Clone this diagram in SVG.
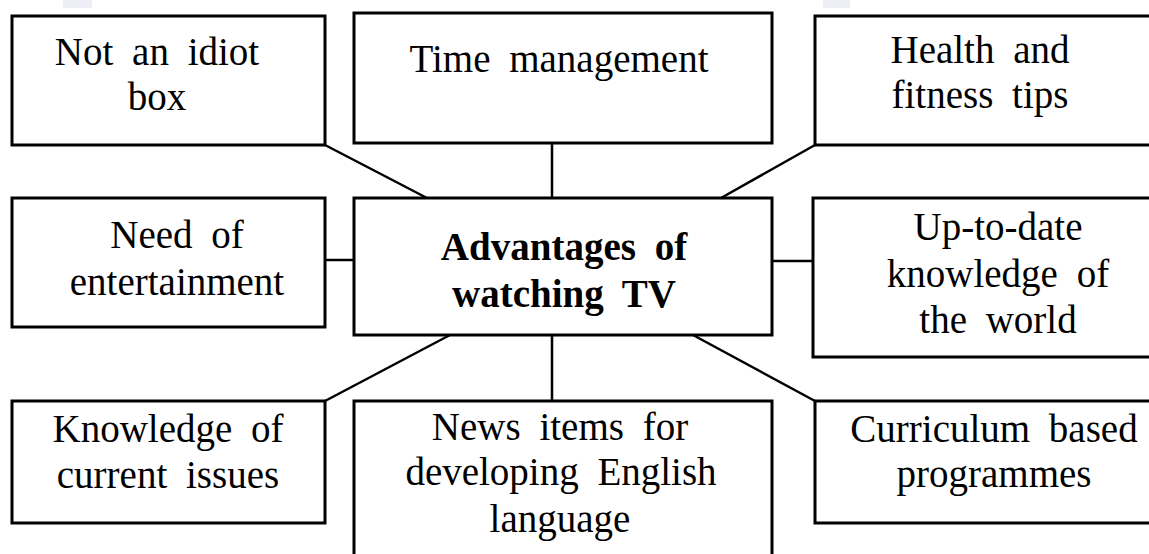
<svg xmlns="http://www.w3.org/2000/svg" width="1149" height="554" viewBox="0 0 1149 554">
  <style>
    .box { fill: #ffffff; stroke: #000000; stroke-width: 3; }
    .conn { stroke: #000000; stroke-width: 2.5; fill: none; }
    .t { font-size: 39px; fill: #000000; text-anchor: middle; word-spacing: 9px; }
    .tb { font-weight: bold; }
    .wm { fill: #eeeef7; }
  </style>
  <rect x="0" y="0" width="1149" height="554" fill="#ffffff"/>
  <rect class="wm" x="63" y="0" width="29" height="8"/>
  <rect class="wm" x="823" y="0" width="27" height="8"/>

  <g id="connectors">
    <line class="conn" x1="325" y1="145" x2="427" y2="198"/>
    <line class="conn" x1="552" y1="143" x2="552" y2="198"/>
    <line class="conn" x1="815" y1="145" x2="721" y2="198"/>
    <line class="conn" x1="325" y1="260" x2="354" y2="260"/>
    <line class="conn" x1="772" y1="261" x2="813" y2="261"/>
    <line class="conn" x1="450" y1="335" x2="325" y2="401"/>
    <line class="conn" x1="552" y1="335" x2="552" y2="401"/>
    <line class="conn" x1="693" y1="335" x2="815" y2="401"/>
  </g>

  <g font-family="Liberation Serif, Times New Roman, serif">
  <g id="node-idiot-box">
    <rect class="box" x="12" y="16" width="313" height="129"/>
    <text class="t" x="157" y="65">Not an idiot</text>
    <text class="t" x="157" y="110">box</text>
  </g>

  <g id="node-time">
    <rect class="box" x="354" y="13" width="418" height="130"/>
    <text class="t" x="559" y="72">Time management</text>
  </g>

  <g id="node-health">
    <rect class="box" x="815" y="16" width="350" height="129"/>
    <text class="t" x="980" y="63">Health and</text>
    <text class="t" x="980" y="108">fitness tips</text>
  </g>

  <g id="node-entertainment">
    <rect class="box" x="12" y="198" width="313" height="129"/>
    <text class="t" x="177" y="248">Need of</text>
    <text class="t" x="177" y="295">entertainment</text>
  </g>

  <g id="node-center">
    <rect class="box" x="354" y="198" width="418" height="137"/>
    <text class="t tb" x="564" y="260">Advantages of</text>
    <text class="t tb" x="564" y="307">watching TV</text>
  </g>

  <g id="node-uptodate">
    <rect class="box" x="813" y="198" width="350" height="159"/>
    <text class="t" x="998" y="240">Up-to-date</text>
    <text class="t" x="998" y="287">knowledge of</text>
    <text class="t" x="998" y="333">the world</text>
  </g>

  <g id="node-current-issues">
    <rect class="box" x="12" y="401" width="313" height="122"/>
    <text class="t" x="168" y="442">Knowledge of</text>
    <text class="t" x="168" y="488">current issues</text>
  </g>

  <g id="node-news">
    <rect class="box" x="354" y="401" width="418" height="170"/>
    <text class="t" x="560" y="440">News items for</text>
    <text class="t" x="561" y="485">developing English</text>
    <text class="t" x="560" y="532">language</text>
  </g>

  <g id="node-curriculum">
    <rect class="box" x="815" y="401" width="350" height="122"/>
    <text class="t" x="994" y="442">Curriculum based</text>
    <text class="t" x="994" y="487">programmes</text>
  </g>
  </g>
</svg>
